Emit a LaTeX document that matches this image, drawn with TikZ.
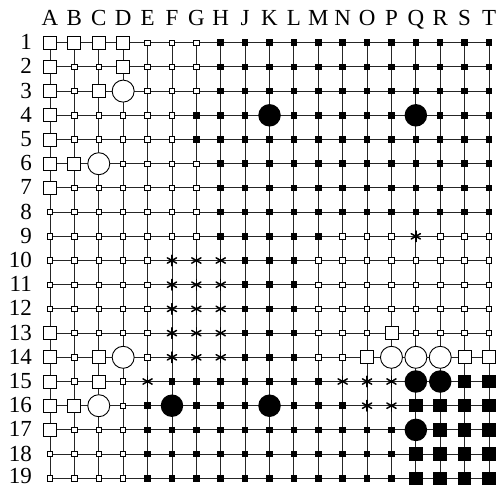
\documentclass[tikz,border=0pt]{standalone}
\usepackage{fontspec}
\setmainfont{Liberation Serif}
\newcommand\labfont{\fontsize{23pt}{27pt}\selectfont}
\tikzset{
  lab/.style={font=\labfont, inner sep=0},
  gridline/.style={black!85, line width=0.9},
  mo/.style={rectangle, draw, fill=white, minimum size=5.5, inner sep=0, line width=0.9},
  mO/.style={rectangle, draw, fill=white, minimum size=13, inner sep=0, line width=0.9},
  mx/.style={rectangle, fill=black, minimum size=6.5, inner sep=0},
  mX/.style={rectangle, fill=black, minimum size=13.5, inner sep=0},
  mc/.style={circle, draw, fill=white, minimum size=22, inner sep=0, line width=0.9},
  mB/.style={circle, fill=black, minimum size=22.5, inner sep=0},
  ma/.style={circle, minimum size=13, inner sep=0,
    path picture={\foreach \a in {90,30,150}{\draw[line width=1.5, line cap=round] ([shift={(\a:5.3)}]path picture bounding box.center) -- ([shift={(\a+180:5.3)}]path picture bounding box.center);}}},
}
\newcommand\goRow[2]{%
  \foreach \c [count=\i] in {#2} {
    \node[m\c] (p-\i-#1) at ({50+(\i-1)*24.39},{42.7+(#1-1)*24.2}) {};
  }}
\begin{document}
\begin{tikzpicture}[x=1pt,y=-1pt]
\useasboundingbox (0,0) rectangle (497,485);
% grid
\foreach \i in {1,...,19} {
  \draw[gridline] ({50+(\i-1)*24.39},42.7) -- ({50+(\i-1)*24.39},{42.7+18*24.2});
  \draw[gridline] (50,{42.7+(\i-1)*24.2}) -- ({50+18*24.39},{42.7+(\i-1)*24.2});
}
% labels
\foreach \l [count=\i] in {A,B,C,D,E,F,G,H,J,K,L,M,N,O,P,Q,R,S,T}
  \node[lab, anchor=base] (col-\l) at ({50+(\i-1)*24.39},25) {\l};
\foreach \j in {1,...,19}
  \node[lab, anchor=base east] (row-\j) at (32,{min(42.7+(\j-1)*24.2+7,483.3)}) {\j};
% markers
\goRow{1}{O,O,O,O,o,o,o,x,x,x,x,x,x,x,x,x,x,x,x}
\goRow{2}{O,o,o,O,o,o,o,x,x,x,x,x,x,x,x,x,x,x,x}
\goRow{3}{O,o,O,c,o,o,o,x,x,x,x,x,x,x,x,x,x,x,x}
\goRow{4}{O,o,o,o,o,o,x,x,x,B,x,x,x,x,x,B,x,x,x}
\goRow{5}{O,o,o,o,o,o,x,x,x,x,x,x,x,x,x,x,x,x,x}
\goRow{6}{O,O,c,o,o,o,o,x,x,x,x,x,x,x,x,x,x,x,x}
\goRow{7}{O,o,o,o,o,o,o,x,x,x,x,x,x,x,x,x,x,x,x}
\goRow{8}{o,o,o,o,o,o,o,x,x,x,x,x,x,x,x,x,x,x,x}
\goRow{9}{o,o,o,o,o,o,o,x,x,x,x,x,o,o,o,a,o,o,o}
\goRow{10}{o,o,o,o,o,a,a,a,x,x,x,o,o,o,o,o,o,o,o}
\goRow{11}{o,o,o,o,o,a,a,a,x,x,x,o,o,o,o,o,o,o,o}
\goRow{12}{o,o,o,o,o,a,a,a,x,x,x,o,o,o,o,o,o,o,o}
\goRow{13}{O,o,o,o,o,a,a,a,x,x,x,o,o,o,O,o,o,o,o}
\goRow{14}{O,o,O,c,o,a,a,a,x,x,x,o,o,O,c,c,c,O,O}
\goRow{15}{O,o,O,o,a,x,x,x,x,x,x,x,a,a,a,B,B,X,X}
\goRow{16}{O,O,c,o,x,B,x,x,x,B,x,x,x,a,a,X,X,X,X}
\goRow{17}{O,o,o,o,x,x,x,x,x,x,x,x,x,x,x,B,X,X,X}
\goRow{18}{o,o,o,o,x,x,x,x,x,x,x,x,x,x,x,X,X,X,X}
\goRow{19}{o,o,o,o,x,x,x,x,x,x,x,x,x,x,x,X,X,X,X}
\end{tikzpicture}
\end{document}
